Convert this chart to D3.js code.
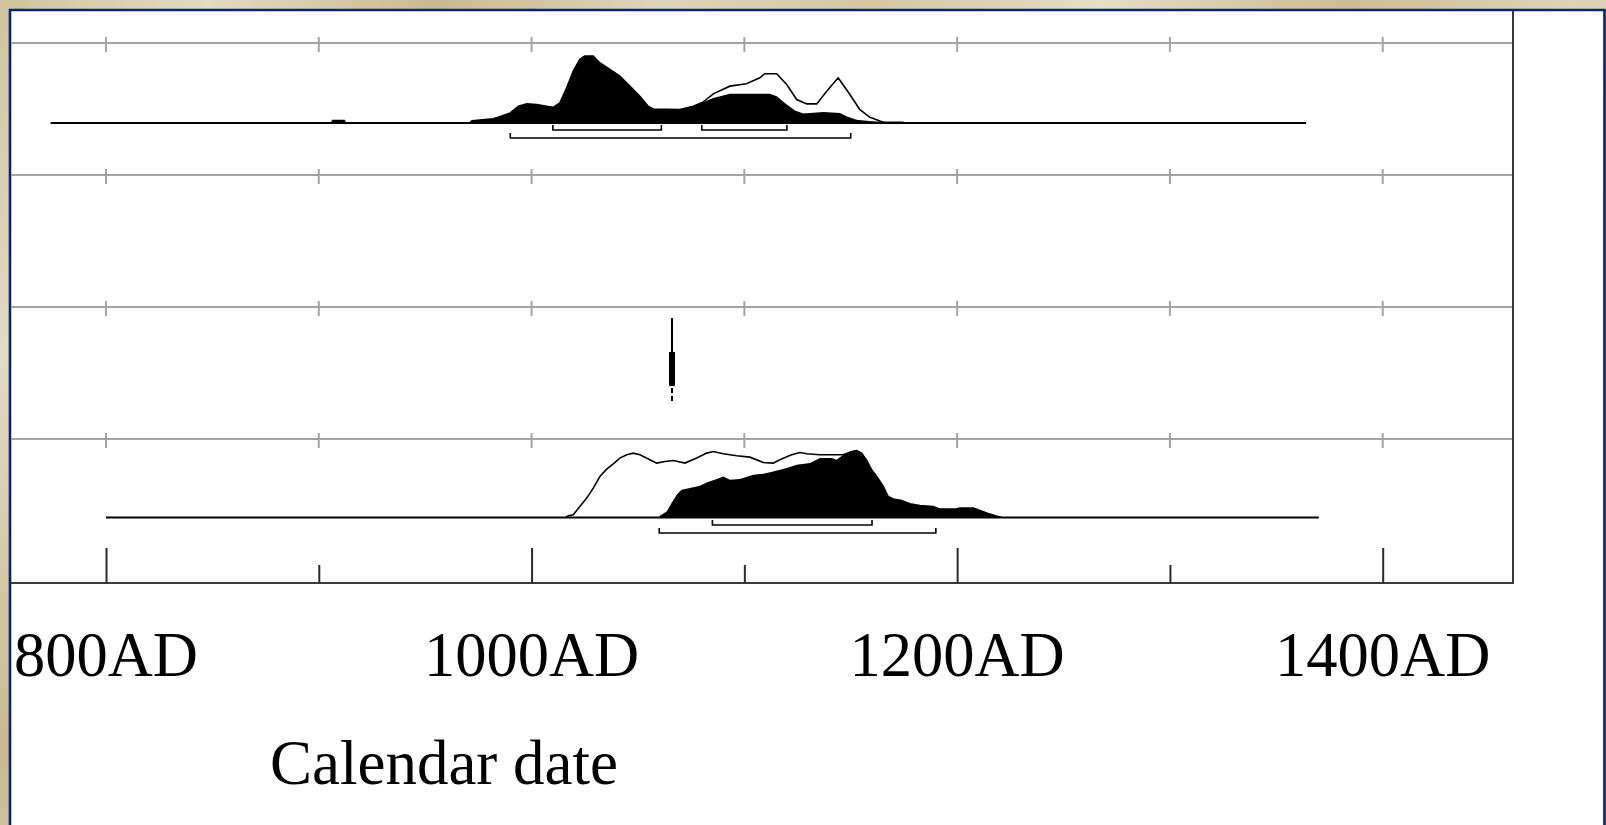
<!DOCTYPE html>
<html>
<head>
<meta charset="utf-8">
<script src="https://cdn.jsdelivr.net/npm/d3@7"></script>
<style>
  html, body { margin: 0; padding: 0; background: #d7ceb2; overflow: hidden; }
  svg { display: block; }
  text { font-family: "Liberation Serif", "Times New Roman", serif; fill: #000; }
</style>
</head>
<body>
<svg id="chart" width="1606" height="825"></svg>
<script>
// ---- axis ----
const tickYears = [800, 900, 1000, 1100, 1200, 1300, 1400];
const majorYears = [800, 1000, 1200, 1400];
const minorYears = [900, 1100, 1300];
const tickLabels = ["800AD", "1000AD", "1200AD", "1400AD"];
const axisTitle = "Calendar date";

// ---- row 1: computed range, likelihood (outline) and posterior (filled), relative probability % ----
const row1Span = [774, 1364];
const row1Likelihood = [
  [906,0],[906.5,3.7],[912,3.7],[912.5,0],
  [971,0],[972,3.4],[982,6.4],[986,10.5],[990,15],[993.8,25],[997.7,28.5],[1002.4,27.4],
  [1007,25],[1010.2,23.4],[1013.3,30],[1016.5,52.5],[1019.6,77.4],[1022.7,95],[1025,100],
  [1029,100],[1032,90],[1036.8,80],[1041.5,70],[1046.2,55],[1050.9,40],[1054.8,25],
  [1057.2,21],[1069.7,20],[1076,25],[1080.7,31.5],[1085.4,43.5],[1093.2,55],[1101,58.5],
  [1107.3,67.5],[1109.6,73.5],[1115.2,73.5],[1119.9,57.5],[1124.6,35],[1129.3,28.5],
  [1134,28.5],[1138.7,47.4],[1144.1,67.5],[1149.6,42.5],[1154.3,20],[1159,8.4],
  [1162.2,5],[1166,0]
];
const row1Posterior = [
  [906,0],[906.5,3.7],[912,3.7],[912.5,0],
  [971,0],[972,3.4],[982,6.4],[986,10.5],[990,15],[993.8,25],[997.7,28.5],[1002.4,27.4],
  [1007,25],[1010.2,23.4],[1013.3,30],[1016.5,52.5],[1019.6,77.4],[1022.7,95],[1025,100],
  [1029,100],[1032,90],[1036.8,80],[1041.5,70],[1046.2,55],[1050.9,40],[1054.8,25],
  [1057.2,21],[1069.7,20],[1076,25],[1080.7,31.5],[1085.4,37.5],[1093.2,43.5],[1112,43.5],
  [1115.2,40],[1119.9,27.5],[1123.8,18.5],[1127.7,14],[1137.1,16.5],[1144.9,15],[1148,10],
  [1152.7,5],[1157.4,3.5],[1162,2.4],[1174.7,2.4],[1175,0]
];
const row1Ranges68 = [[1010, 1061], [1080, 1120]];
const row1Ranges95 = [[990, 1150]];

// ---- row 3: single event ----
const row3Event = 1066;

// ---- row 4 ----
const row4Span = [800, 1370];
const row4Likelihood = [
  [1016,0],[1017.3,2.5],[1019.6,4],[1022.7,16.4],[1025.9,29],[1029,43.9],[1032.1,61.2],
  [1035.3,72.2],[1038.4,80.1],[1041.5,88.7],[1044.7,93.6],[1047.8,96.1],[1050.9,93.6],
  [1055.6,86.1],[1058.8,81.2],[1062.7,83.6],[1066.6,85.1],[1072.1,81.2],[1077.6,88.7],
  [1082.3,96.1],[1085.4,98.5],[1090.1,95.1],[1096.4,92.1],[1102.6,90.1],[1108.9,82.1],
  [1113.6,81.2],[1116.7,86.1],[1122.2,93.6],[1126.1,97],[1129.3,95.1],[1135.5,93.6],
  [1143.3,93.6],[1146.5,93.6],[1150.4,98.5],[1152.8,100],[1155.1,96.1],[1157.4,86.1],
  [1159.8,71.2],[1162.2,61.2],[1165.3,46.3],[1167.6,31.3],[1170,27.5],[1173.9,25.4],
  [1177.8,20.4],[1182.5,17.9],[1188.8,16.4],[1191.9,12.5],[1199.6,12.5],[1201.3,14],
  [1207.6,14],[1210.7,10.4],[1214.5,6],[1218,2.5],[1221,0]
];
const row4Posterior = [
  [1060,0],[1060.3,2.5],[1063.5,9],[1065.8,21.5],[1068.2,33.9],[1070.5,41.3],[1074.4,43.9],
  [1079.1,47.3],[1082.3,52.2],[1087,57.3],[1090.1,61.2],[1093.2,56.3],[1097.9,57.3],
  [1104.2,63.7],[1108.9,65.2],[1113.6,68.7],[1116.7,71.2],[1119.9,73.7],[1124.6,78.7],
  [1130.9,81.2],[1135.5,88.7],[1141,88.7],[1143.3,86.1],[1146.5,93.6],[1150.4,98.5],
  [1152.8,100],[1155.1,96.1],[1157.4,86.1],[1159.8,71.2],[1162.2,61.2],[1165.3,46.3],
  [1167.6,31.3],[1170,27.5],[1173.9,25.4],[1177.8,20.4],[1182.5,17.9],[1188.8,16.4],
  [1191.9,12.5],[1199.6,12.5],[1201.3,14],[1207.6,14],[1210.7,10.4],[1214.5,6],
  [1218,2.5],[1221,0]
];
const row4Ranges68 = [[1085, 1160]];
const row4Ranges95 = [[1060, 1190]];

// ---- layout ----
const W = 1606, H = 825;
const panel = { left: 11, top: 11, right: 1603 };
const plot = { left: 11, right: 1513, axisY: 583 };
const separatorsY = [43, 175, 307, 439];
const peakHeight = 67;

const svg = d3.select("#chart");

// window background
const defs = svg.append("defs");
const grad = defs.append("linearGradient").attr("id", "bg").attr("x1", "0").attr("x2", "1").attr("y1", "0").attr("y2", "0.3");
[["0%", "#cfc3a0"], ["12%", "#e2dbc5"], ["25%", "#c9ba94"], ["38%", "#ddd5bd"], ["50%", "#d3c7a5"],
 ["63%", "#e4ddc9"], ["77%", "#cbbd98"], ["90%", "#ddd4bb"], ["100%", "#d2c6a4"]]
  .forEach(([o, c]) => grad.append("stop").attr("offset", o).attr("stop-color", c));
svg.append("rect").attr("width", W).attr("height", H).attr("fill", "url(#bg)");

// white panel with navy border
svg.append("rect")
  .attr("x", panel.left).attr("y", panel.top)
  .attr("width", panel.right - panel.left).attr("height", H - panel.top)
  .attr("fill", "#ffffff");
svg.append("path")
  .attr("d", `M${panel.left - 1},${H} V${panel.top - 1} H${panel.right + 1.5} V${H}`)
  .attr("fill", "none").attr("stroke", "#0d2565").attr("stroke-width", 2.6);

const x = d3.scaleLinear().domain([800, 1400]).range([106, 1382.7]);
const h = d3.scaleLinear().domain([0, 100]).range([0, peakHeight]);

// row separators with their ticks
const sep = svg.append("g");
separatorsY.forEach(y => {
  sep.append("line").attr("x1", plot.left).attr("x2", plot.right).attr("y1", y).attr("y2", y)
    .attr("stroke", "#a3a3a3").attr("stroke-width", 2);
  sep.selectAll(null).data(tickYears).enter().append("line")
    .attr("x1", d => x(d)).attr("x2", d => x(d))
    .attr("y1", y - 6).attr("y2", y + 9)
    .attr("stroke", "#a3a3a3").attr("stroke-width", 2);
});

// frame: right edge and bottom axis line
svg.append("path")
  .attr("d", `M${plot.left},${plot.axisY} H${plot.right} V${panel.top}`)
  .attr("fill", "none").attr("stroke", "#3a3a3a").attr("stroke-width", 2);

// bottom axis ticks
const axisG = svg.append("g").attr("transform", `translate(0,${plot.axisY})`);
axisG.append("g").call(d3.axisTop(x).tickValues(majorYears).tickSize(35).tickFormat(""))
  .call(g => g.select(".domain").remove())
  .call(g => g.selectAll("line").attr("stroke", "#2a2a2a").attr("stroke-width", 2));
axisG.append("g").call(d3.axisTop(x).tickValues(minorYears).tickSize(18).tickFormat(""))
  .call(g => g.select(".domain").remove())
  .call(g => g.selectAll("line").attr("stroke", "#2a2a2a").attr("stroke-width", 2));

svg.selectAll(null).data(majorYears).enter().append("text")
  .attr("x", d => x(d)).attr("y", 676)
  .attr("text-anchor", "middle").attr("font-size", 62.5)
  .text((d, i) => tickLabels[i]);

svg.append("text").attr("x", 444).attr("y", 784)
  .attr("text-anchor", "middle").attr("font-size", 63)
  .text(axisTitle);

// one distribution row
function drawRow(base, span, likelihood, posterior, r68, r95, y68, y95) {
  const g = svg.append("g");
  const area = d3.area().x(d => x(d[0])).y0(base).y1(d => base - h(d[1]));
  const line = d3.line().x(d => x(d[0])).y(d => base - h(d[1]));
  g.append("line").attr("x1", x(span[0])).attr("x2", x(span[1]))
    .attr("y1", base).attr("y2", base).attr("stroke", "#000").attr("stroke-width", 2);
  g.append("path").datum(likelihood).attr("d", line)
    .attr("fill", "none").attr("stroke", "#000").attr("stroke-width", 1.6);
  g.append("path").datum(posterior).attr("d", area).attr("fill", "#000");
  const bracket = (ranges, y) => g.selectAll(null).data(ranges).enter().append("path")
    .attr("d", d => `M${x(d[0])},${y - 5} V${y} H${x(d[1])} V${y - 5}`)
    .attr("fill", "none").attr("stroke", "#000").attr("stroke-width", 1.6);
  bracket(r68, y68);
  bracket(r95, y95);
}

drawRow(123, row1Span, row1Likelihood, row1Posterior, row1Ranges68, row1Ranges95, 130, 138);
drawRow(517.5, row4Span, row4Likelihood, row4Posterior, row4Ranges68, row4Ranges95, 525, 533);

// row 3 event marker
const ev = svg.append("g");
const ex = x(row3Event);
ev.append("line").attr("x1", ex).attr("x2", ex).attr("y1", 318).attr("y2", 352)
  .attr("stroke", "#000").attr("stroke-width", 2);
ev.append("rect").attr("x", ex - 3).attr("y", 352).attr("width", 6).attr("height", 34).attr("fill", "#000");
ev.append("line").attr("x1", ex).attr("x2", ex).attr("y1", 388).attr("y2", 404)
  .attr("stroke", "#000").attr("stroke-width", 2).attr("stroke-dasharray", "5,3");
</script>
</body>
</html>
